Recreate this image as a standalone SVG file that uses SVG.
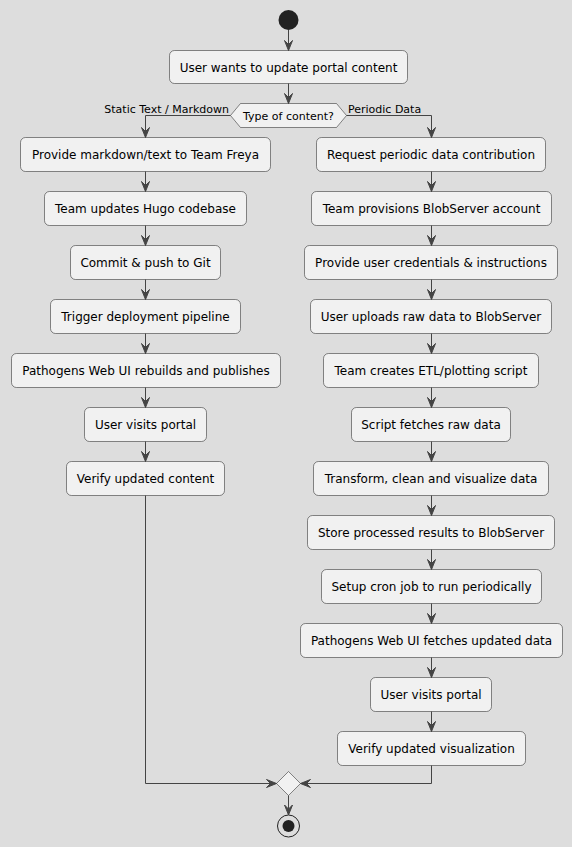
<svg xmlns="http://www.w3.org/2000/svg" width="572" height="847" viewBox="0 0 572 847">
<defs>
<style>
.bg{fill:#DDDDDD}
.box rect{fill:#F1F1F1;stroke:#181818;stroke-width:0.5}
.box text{font-family:"DejaVu Sans",sans-serif;font-size:12px;fill:#000;text-anchor:middle}
.lbl{font-family:"DejaVu Sans",sans-serif;font-size:11px;fill:#000}
.ln{fill:none;stroke:#444444;stroke-width:1}
.ah{fill:#444444;stroke:#444444;stroke-width:1}
.dia{fill:#F1F1F1;stroke:#181818;stroke-width:0.5}
</style>
</defs>
<rect class="bg" x="0" y="0" width="572" height="847"/>

<g id="start"><circle cx="288.5" cy="20" r="10" fill="#222222"/></g>

<g id="n0" class="box"><rect x="169.5" y="50.5" width="238" height="33" rx="5"/><text x="288.5" y="71.5">User wants to update portal content</text></g>

<g id="decision">
<polygon class="dia" points="230.5,115.5 240.5,103.5 336.5,103.5 346.5,115.5 336.5,127.5 240.5,127.5"/>
<text class="lbl" x="288.5" y="119.5" text-anchor="middle">Type of content?</text>
</g>

<g id="l1" class="box"><rect x="20.5" y="137.5" width="250" height="34" rx="5"/><text x="145.5" y="158.5">Provide markdown/text to Team Freya</text></g>
<g id="l2" class="box"><rect x="44.5" y="191.5" width="202" height="34" rx="5"/><text x="145.5" y="212.5">Team updates Hugo codebase</text></g>
<g id="l3" class="box"><rect x="70.5" y="245.5" width="150" height="34" rx="5"/><text x="145.5" y="266.5">Commit &amp; push to Git</text></g>
<g id="l4" class="box"><rect x="50.5" y="299.5" width="190" height="34" rx="5"/><text x="145.5" y="320.5">Trigger deployment pipeline</text></g>
<g id="l5" class="box"><rect x="11.5" y="353.5" width="269" height="34" rx="5"/><text x="146" y="374.5">Pathogens Web UI rebuilds and publishes</text></g>
<g id="l6" class="box"><rect x="84.5" y="407.5" width="122" height="34" rx="5"/><text x="145.5" y="428.5">User visits portal</text></g>
<g id="l7" class="box"><rect x="66.5" y="461.5" width="158" height="34" rx="5"/><text x="145.5" y="482.5">Verify updated content</text></g>

<g id="r1" class="box"><rect x="316.5" y="137.5" width="229" height="34" rx="5"/><text x="431" y="158.5">Request periodic data contribution</text></g>
<g id="r2" class="box"><rect x="311.5" y="191.5" width="240" height="34" rx="5"/><text x="431.5" y="212.5">Team provisions BlobServer account</text></g>
<g id="r3" class="box"><rect x="304.5" y="245.5" width="253" height="34" rx="5"/><text x="431" y="266.5">Provide user credentials &amp; instructions</text></g>
<g id="r4" class="box"><rect x="310.5" y="299.5" width="241" height="34" rx="5"/><text x="431" y="320.5">User uploads raw data to BlobServer</text></g>
<g id="r5" class="box"><rect x="323.5" y="353.5" width="215" height="34" rx="5"/><text x="431" y="374.5">Team creates ETL/plotting script</text></g>
<g id="r6" class="box"><rect x="351.5" y="407.5" width="159" height="34" rx="5"/><text x="431" y="428.5">Script fetches raw data</text></g>
<g id="r7" class="box"><rect x="313.5" y="461.5" width="235" height="34" rx="5"/><text x="431" y="482.5">Transform, clean and visualize data</text></g>
<g id="r8" class="box"><rect x="307.5" y="515.5" width="247" height="34" rx="5"/><text x="431" y="536.5">Store processed results to BlobServer</text></g>
<g id="r9" class="box"><rect x="321.5" y="569.5" width="220" height="34" rx="5"/><text x="431.5" y="590.5">Setup cron job to run periodically</text></g>
<g id="r10" class="box"><rect x="300.5" y="623.5" width="262" height="34" rx="5"/><text x="431.5" y="644.5">Pathogens Web UI fetches updated data</text></g>
<g id="r11" class="box"><rect x="370.5" y="677.5" width="121" height="34" rx="5"/><text x="431" y="698.5">User visits portal</text></g>
<g id="r12" class="box"><rect x="337.5" y="731.5" width="188" height="34" rx="5"/><text x="431.5" y="752.5">Verify updated visualization</text></g>

<g id="merge"><polygon class="dia" points="288.5,771.5 300.5,783.5 288.5,795.5 276.5,783.5"/></g>

<g id="end"><circle cx="288.5" cy="826" r="11" fill="none" stroke="#222222" stroke-width="1"/><circle cx="288.5" cy="826" r="6" fill="#222222"/></g>

<g id="connectors">
<path class="ln" d="M288.5,30 V50.5"/><polygon class="ah" points="284.5,40.5 288.5,50.5 292.5,40.5 288.5,44.5"/>
<path class="ln" d="M288.5,83.5 V103.5"/><polygon class="ah" points="284.5,93.5 288.5,103.5 292.5,93.5 288.5,97.5"/>
<path class="ln" d="M230.5,115.5 H145.5 V137.5"/><polygon class="ah" points="141.5,127.5 145.5,137.5 149.5,127.5 145.5,131.5"/>
<text class="lbl" x="229" y="112.5" text-anchor="end">Static Text / Markdown</text>
<path class="ln" d="M346.5,115.5 H431.5 V137.5"/><polygon class="ah" points="427.5,127.5 431.5,137.5 435.5,127.5 431.5,131.5"/>
<text class="lbl" x="348" y="112.5">Periodic Data</text>

<path class="ln" d="M145.5,171.5 V191.5 M145.5,225.5 V245.5 M145.5,279.5 V299.5 M145.5,333.5 V353.5 M145.5,387.5 V407.5 M145.5,441.5 V461.5"/>
<polygon class="ah" points="141.5,181.5 145.5,191.5 149.5,181.5 145.5,185.5"/>
<polygon class="ah" points="141.5,235.5 145.5,245.5 149.5,235.5 145.5,239.5"/>
<polygon class="ah" points="141.5,289.5 145.5,299.5 149.5,289.5 145.5,293.5"/>
<polygon class="ah" points="141.5,343.5 145.5,353.5 149.5,343.5 145.5,347.5"/>
<polygon class="ah" points="141.5,397.5 145.5,407.5 149.5,397.5 145.5,401.5"/>
<polygon class="ah" points="141.5,451.5 145.5,461.5 149.5,451.5 145.5,455.5"/>

<path class="ln" d="M431.5,171.5 V191.5 M431.5,225.5 V245.5 M431.5,279.5 V299.5 M431.5,333.5 V353.5 M431.5,387.5 V407.5 M431.5,441.5 V461.5 M431.5,495.5 V515.5 M431.5,549.5 V569.5 M431.5,603.5 V623.5 M431.5,657.5 V677.5 M431.5,711.5 V731.5"/>
<polygon class="ah" points="427.5,181.5 431.5,191.5 435.5,181.5 431.5,185.5"/>
<polygon class="ah" points="427.5,235.5 431.5,245.5 435.5,235.5 431.5,239.5"/>
<polygon class="ah" points="427.5,289.5 431.5,299.5 435.5,289.5 431.5,293.5"/>
<polygon class="ah" points="427.5,343.5 431.5,353.5 435.5,343.5 431.5,347.5"/>
<polygon class="ah" points="427.5,397.5 431.5,407.5 435.5,397.5 431.5,401.5"/>
<polygon class="ah" points="427.5,451.5 431.5,461.5 435.5,451.5 431.5,455.5"/>
<polygon class="ah" points="427.5,505.5 431.5,515.5 435.5,505.5 431.5,509.5"/>
<polygon class="ah" points="427.5,559.5 431.5,569.5 435.5,559.5 431.5,563.5"/>
<polygon class="ah" points="427.5,613.5 431.5,623.5 435.5,613.5 431.5,617.5"/>
<polygon class="ah" points="427.5,667.5 431.5,677.5 435.5,667.5 431.5,671.5"/>
<polygon class="ah" points="427.5,721.5 431.5,731.5 435.5,721.5 431.5,725.5"/>

<path class="ln" d="M145.5,495.5 V783.5 H276.5"/><polygon class="ah" points="266.5,779.5 276.5,783.5 266.5,787.5 270.5,783.5"/>
<path class="ln" d="M431.5,765.5 V783.5 H300.5"/><polygon class="ah" points="310.5,779.5 300.5,783.5 310.5,787.5 306.5,783.5"/>
<path class="ln" d="M288.5,795.5 V815"/><polygon class="ah" points="284.5,805 288.5,815 292.5,805 288.5,809"/>
</g>
</svg>
